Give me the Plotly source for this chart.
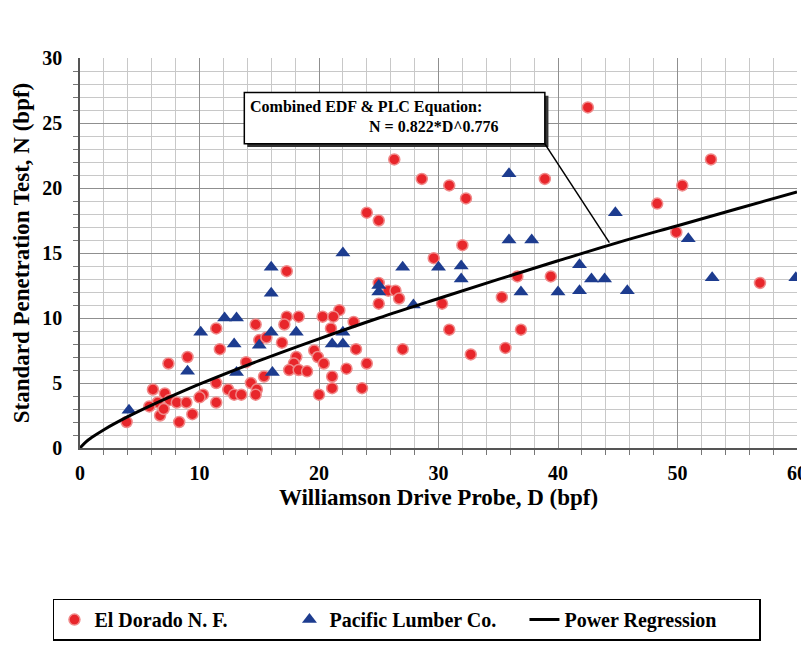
import plotly.graph_objects as go

# El Dorado N. F. (red circles)
eldorado_d = [42.5, 52.8, 50.4, 48.3, 49.9, 56.9,
              26.3, 28.6, 30.9, 32.3, 38.9, 24.0, 25.0, 32.0, 29.6, 36.6, 39.4, 25.0, 25.8, 26.4,
              26.7, 25.0, 30.3, 35.3, 30.9, 36.9, 22.9, 23.1, 27.0, 32.7, 35.6, 24.0, 22.3,
              17.3, 14.7, 17.3, 18.3, 17.1, 20.3, 21.7, 21.2, 21.0, 11.4, 11.7, 15.0, 15.6, 16.9,
              13.9, 19.6, 19.9, 20.4, 18.1, 17.9, 17.5, 18.3, 19.0, 21.1, 21.1, 23.6, 20.0, 15.4,
              14.3, 14.8, 14.7, 11.4, 12.4, 12.9, 13.5, 10.3, 11.4,
              7.4, 9.0, 6.1, 3.9, 8.3, 9.4, 7.1, 6.5, 5.8, 6.7, 7.5, 8.1, 8.9, 10.0, 7.0]
eldorado_n = [26.2, 22.2, 20.2, 18.8, 16.6, 12.7,
              22.2, 20.7, 20.2, 19.2, 20.7, 18.1, 17.5, 15.6, 14.6, 13.2, 13.2, 12.7, 12.1, 12.1,
              11.5, 11.1, 11.1, 11.6, 9.1, 9.1, 9.7, 7.6, 7.6, 7.2, 7.7, 6.5, 6.1,
              13.6, 9.5, 10.1, 10.1, 9.5, 10.1, 10.6, 10.1, 9.2, 9.2, 7.6, 8.3, 8.5, 8.1,
              6.6, 7.5, 7.0, 6.5, 7.0, 6.5, 6.0, 6.0, 5.9, 5.5, 4.6, 4.6, 4.1, 5.5,
              5.0, 4.5, 4.1, 5.0, 4.5, 4.1, 4.1, 4.1, 3.5,
              6.5, 7.0, 4.5, 2.0, 2.0, 2.6, 4.2, 3.5, 3.2, 2.5, 3.7, 3.5, 3.5, 3.9, 3.0]

# Pacific Lumber Co. (blue triangles)
pacific_d = [44.8, 50.9, 41.8, 42.8, 43.9, 40.0, 41.8, 45.8, 52.9, 59.9,
             35.9, 35.9, 37.8, 27.0, 30.0, 31.9, 31.9, 25.0, 27.9, 36.9,
             22.0, 16.0, 16.0, 12.1, 13.1, 10.1, 12.9, 16.0, 15.0, 18.1, 21.1, 22.0, 22.0,
             13.1, 16.1, 4.1, 9.0, 25.0]
pacific_n = [18.1, 16.1, 14.1, 13.0, 13.0, 12.0, 12.1, 12.1, 13.1, 13.1,
             21.1, 16.0, 16.0, 13.9, 13.9, 14.0, 13.0, 12.0, 11.0, 12.0,
             15.0, 13.9, 11.9, 10.0, 10.0, 8.9, 8.0, 8.9, 7.9, 8.9, 8.0, 8.0, 8.9,
             5.8, 5.8, 2.9, 5.9, 12.5]

# Power regression curve (N = 0.822*D^0.776)
curve_d = [0, 0.5, 1, 2, 4, 6, 8, 10, 15, 20, 25, 30, 35, 40, 45, 50, 55, 60]
curve_n = [0, 0.48, 0.82, 1.41, 2.41, 3.30, 4.12, 4.91, 6.72, 8.40, 10.0, 11.5, 12.97,
           14.4, 15.8, 17.1, 18.4, 19.7]

serif = "Times New Roman, Liberation Serif, serif"

fig = go.Figure()
fig.add_trace(go.Scatter(
    x=eldorado_d, y=eldorado_n, mode="markers", name="El Dorado N. F.",
    marker=dict(symbol="circle", size=11, color="#e8262b",
                line=dict(color="#f08a8a", width=1.5)),
))
fig.add_trace(go.Scatter(
    x=pacific_d, y=pacific_n, mode="markers", name="Pacific Lumber Co.",
    marker=dict(symbol="triangle-up", size=13, color="#1d3c8f",
                line=dict(color="#1d3c8f", width=0)),
))
fig.add_trace(go.Scatter(
    x=curve_d, y=curve_n, mode="lines", name="Power Regression",
    line=dict(color="black", width=3, shape="spline"),
))

# equation box with shadow and leader line
fig.add_shape(type="rect", x0=14.0, x1=39.2, y0=23.15, y1=27.1,
              fillcolor="#333333", line=dict(width=0), layer="above")
fig.add_shape(type="rect", x0=13.75, x1=38.9, y0=23.4, y1=27.35,
              fillcolor="white", line=dict(color="black", width=1.5), layer="above")
fig.add_shape(type="line", x0=38.9, y0=23.4, x1=44.3, y1=15.8,
              line=dict(color="black", width=1.5), layer="above")
fig.add_annotation(x=14.1, y=26.25, text="<b>Combined EDF & PLC Equation:</b>",
                   xanchor="left", yanchor="middle", showarrow=False,
                   font=dict(family=serif, size=16, color="black"))
fig.add_annotation(x=24.0, y=24.7, text="<b>N = 0.822*D^0.776</b>",
                   xanchor="left", yanchor="middle", showarrow=False,
                   font=dict(family=serif, size=16, color="black"))

axis_common = dict(
    showline=True, linecolor="#555555", linewidth=1.5, mirror=False,
    gridcolor="#8f8f8f", gridwidth=1, zeroline=False,
    tickfont=dict(family=serif, size=20, color="black"),
    ticks="", automargin=False, ticklabeloverflow="allow",
)
fig.update_xaxes(
    range=[0, 60], dtick=10, tick0=0, tickprefix="<b>", ticksuffix="</b>",
    minor=dict(dtick=2, showgrid=True, gridcolor="#c8c8c8", ticks="outside",
               ticklen=5, tickcolor="#777777"),
    ticklabelstandoff=6,
    title=dict(text="<b>Williamson Drive Probe, D (bpf)</b>",
               font=dict(family=serif, size=23, color="black"), standoff=6),
    **axis_common,
)
fig.update_yaxes(
    range=[0, 30], dtick=5, tick0=0, tickprefix="<b>", ticksuffix="</b>",
    minor=dict(dtick=1, showgrid=True, gridcolor="#c8c8c8", ticks="outside",
               ticklen=5, tickcolor="#777777"),
    ticklabelstandoff=12,
    title=dict(text="<b>Standard Penetration Test, N (bpf)</b>",
               font=dict(family=serif, size=23, color="black"), standoff=6),
    **axis_common,
)
# the page body has an 8px margin, so the figure is sized to fit the window
fig.update_layout(
    width=801, height=650,
    margin=dict(l=72, r=12, t=50, b=210),
    plot_bgcolor="white", paper_bgcolor="white",
    font=dict(family=serif, color="black"),
    legend=dict(
        orientation="h", x=0.456, y=-0.44, xanchor="center", yanchor="middle",
        bordercolor="black", borderwidth=1.5,
        font=dict(family=serif, size=20, color="black"),
        entrywidth=190, itemwidth=30,
    ),
    showlegend=True,
)
fig.for_each_trace(lambda t: t.update(name=f"<b>{t.name}</b>"))

fig.write_html("out.html")
